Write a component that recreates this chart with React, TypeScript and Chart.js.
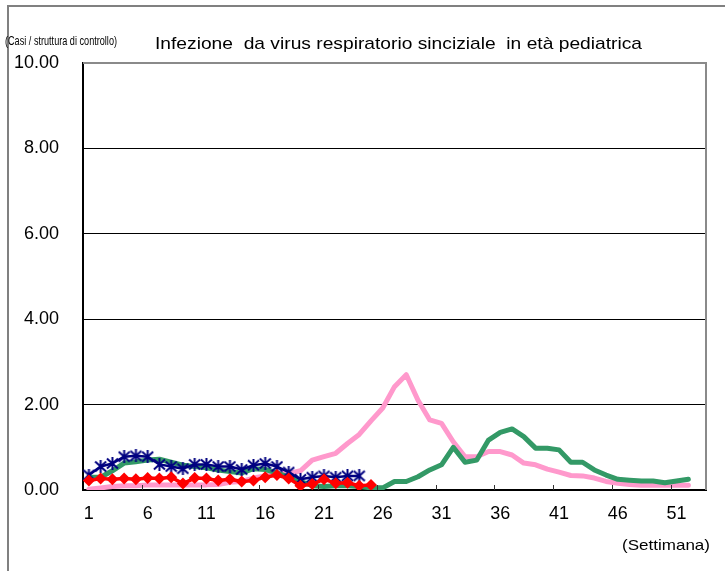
import React, { useEffect, useRef } from "react";
import { Chart, registerables } from "chart.js";

Chart.register(...registerables);

// ---- data ----
const weekLabels: string[] = [
  "1","2","3","4","5","6","7","8","9","10","11","12","13","14","15","16","17","18","19","20",
  "21","22","23","24","25","26","27","28","29","30","31","32","33","34","35","36","37","38","39","40",
  "41","42","43","44","45","46","47","48","49","50","51","52","53",
];
const shownWeekTicks: string[] = ["1","6","11","16","21","26","31","36","41","46","51"];
const yTicks: number[] = [0, 2, 4, 6, 8, 10];

const seriesPink: number[] = [
  0.02, 0.05, 0.08, 0.1, 0.1, 0.12, 0.12, 0.12, 0.12, 0.12,
  0.12, 0.13, 0.18, 0.2, 0.28, 0.33, 0.4, 0.38, 0.45, 0.7,
  0.78, 0.86, 1.09, 1.3, 1.62, 1.92, 2.42, 2.7, 2.1, 1.64,
  1.56, 1.13, 0.78, 0.78, 0.9, 0.9, 0.82, 0.63, 0.59, 0.49,
  0.42, 0.34, 0.33, 0.28, 0.2, 0.16, 0.13, 0.11, 0.11, 0.11,
  0.11, 0.11,
];
const seriesGreen: number[] = [
  0.3, 0.3, 0.45, 0.63, 0.66, 0.7, 0.72, 0.65, 0.58, 0.55,
  0.52, 0.47, 0.43, 0.4, 0.5, 0.48, 0.4, 0.3, 0.2, 0.1,
  0.08, 0.1, 0.1, 0.08, 0.05, 0.05, 0.2, 0.2, 0.31, 0.47,
  0.59, 1.0, 0.65, 0.7, 1.17, 1.35, 1.43, 1.25, 0.98, 0.98,
  0.94, 0.65, 0.65, 0.47, 0.35, 0.25, 0.23, 0.21, 0.21, 0.17,
  0.21, 0.25,
];
const seriesNavy: number[] = [
  0.35, 0.55, 0.62, 0.78, 0.8, 0.78, 0.6, 0.55, 0.5, 0.6,
  0.6, 0.55, 0.55, 0.48, 0.58, 0.62, 0.55, 0.42, 0.25, 0.3,
  0.33, 0.3, 0.33, 0.33,
];
const seriesRed: number[] = [
  0.22, 0.27, 0.25, 0.27, 0.25, 0.28, 0.27, 0.3, 0.15, 0.28,
  0.27, 0.22, 0.25, 0.2, 0.22, 0.3, 0.35, 0.27, 0.1, 0.14,
  0.25, 0.16, 0.17, 0.1, 0.12,
];

const titleText = "Infezione  da virus respiratorio sinciziale  in età pediatrica";
const yUnitText = "(Casi / struttura di controllo)";
const xUnitText = "(Settimana)";

const FONT = '"Liberation Sans", Arial, sans-serif';

function makeStar(): HTMLCanvasElement {
  const c = document.createElement("canvas");
  c.width = 13;
  c.height = 13;
  const g = c.getContext("2d")!;
  g.strokeStyle = "#000080";
  g.lineWidth = 2;
  g.beginPath();
  g.moveTo(1, 1.5);
  g.lineTo(12, 11.5);
  g.moveTo(12, 1.5);
  g.lineTo(1, 11.5);
  g.moveTo(6.5, 0);
  g.lineTo(6.5, 13);
  g.stroke();
  return c;
}

function drawFit(
  ctx: CanvasRenderingContext2D,
  text: string,
  x: number,
  y: number,
  width: number,
  font: string
) {
  ctx.save();
  ctx.font = font;
  const w = ctx.measureText(text).width;
  const s = width / w;
  ctx.translate(x, y);
  ctx.scale(s, 1);
  ctx.textAlign = "left";
  ctx.textBaseline = "middle";
  ctx.fillStyle = "#000";
  ctx.fillText(text, 0, 0);
  ctx.restore();
}

const decor = {
  id: "decor",
  beforeDraw(chart: any) {
    const ctx: CanvasRenderingContext2D = chart.ctx;
    ctx.save();
    ctx.fillStyle = "#fff";
    ctx.fillRect(0, 0, chart.width, chart.height);
    ctx.strokeStyle = "#808080";
    ctx.lineWidth = 2;
    ctx.beginPath();
    ctx.moveTo(8, chart.height);
    ctx.lineTo(8, 6);
    ctx.lineTo(chart.width, 6);
    ctx.stroke();
    ctx.restore();
  },
  afterDraw(chart: any) {
    const ctx: CanvasRenderingContext2D = chart.ctx;
    const a = chart.chartArea;
    const xs = chart.scales.x;
    ctx.save();
    // top and right frame
    ctx.strokeStyle = "#8a8a8a";
    ctx.lineWidth = 2;
    ctx.beginPath();
    ctx.moveTo(a.left, a.top);
    ctx.lineTo(a.right, a.top);
    ctx.lineTo(a.right, a.bottom);
    ctx.stroke();
    // inward tick marks at category boundaries every 5 weeks
    ctx.strokeStyle = "#333";
    ctx.lineWidth = 1;
    ctx.beginPath();
    for (let i = 5; i < weekLabels.length; i += 5) {
      const px = Math.round((xs.getPixelForValue(i - 1) + xs.getPixelForValue(i)) / 2) + 0.5;
      ctx.moveTo(px, a.bottom);
      ctx.lineTo(px, a.bottom - 5);
    }
    ctx.stroke();
    ctx.restore();
    // texts
    drawFit(ctx, titleText, 155, 44, 487, `17px ${FONT}`);
    drawFit(ctx, yUnitText, 5, 41, 112, `13px ${FONT}`);
    drawFit(ctx, xUnitText, 622, 546, 88, `15px ${FONT}`);
  },
};

export default function App() {
  const ref = useRef<HTMLCanvasElement>(null);
  useEffect(() => {
    if (!ref.current) return;
    const star = makeStar();
    const chart = new Chart(ref.current, {
      type: "line",
      data: {
        labels: weekLabels,
        datasets: [
          {
            data: seriesRed,
            borderColor: "#ff0000",
            backgroundColor: "#ff0000",
            borderWidth: 3.5,
            pointStyle: "rectRot",
            pointRadius: 6,
            pointBorderWidth: 0,
            tension: 0,
          },
          {
            data: seriesNavy,
            borderColor: "#000080",
            backgroundColor: "#000080",
            borderWidth: 2.5,
            pointStyle: star as any,
            pointRadius: 6,
            tension: 0,
          },
          {
            data: seriesGreen,
            borderColor: "#339966",
            borderWidth: 5,
            pointRadius: 0,
            tension: 0,
          },
          {
            data: seriesPink,
            borderColor: "#ff99cc",
            borderWidth: 5,
            pointRadius: 0,
            tension: 0,
          },
        ],
      },
      options: {
        responsive: false,
        animation: false,
        devicePixelRatio: 1,
        layout: { padding: { left: 0, top: 63, right: 19, bottom: 0 } },
        plugins: {
          legend: { display: false },
          title: { display: false },
          tooltip: { enabled: false },
        },
        elements: { line: { borderJoinStyle: "round", borderCapStyle: "round" } },
        scales: {
          x: {
            type: "category",
            offset: true,
            grid: { display: false, drawTicks: false },
            border: { display: true, color: "#000", width: 2 },
            ticks: {
              autoSkip: false,
              maxRotation: 0,
              padding: 13,
              color: "#000",
              font: { family: FONT, size: 18 },
              callback: (_v: any, i: number) =>
                shownWeekTicks.includes(weekLabels[i]) ? weekLabels[i] : "",
            },
            afterFit: (s: any) => {
              s.height = 81;
            },
          },
          y: {
            min: yTicks[0],
            max: yTicks[yTicks.length - 1],
            afterBuildTicks: (s: any) => {
              s.ticks = yTicks.map((v) => ({ value: v }));
            },
            grid: {
              drawTicks: false,
              color: (c: any) =>
                c.tick && (c.tick.value === 0 || c.tick.value === 10) ? "rgba(0,0,0,0)" : "#000",
              lineWidth: 1,
            },
            border: { display: true, color: "#000", width: 2 },
            ticks: {
              padding: 24,
              color: "#000",
              font: { family: FONT, size: 18 },
              callback: (v: any) => Number(v).toFixed(2),
            },
            afterFit: (s: any) => {
              s.width = 83;
            },
          },
        },
      },
      plugins: [decor],
    });
    return () => chart.destroy();
  }, []);
  return (
    <div style={{ position: "fixed", left: 0, top: 0, width: 725, height: 571, background: "#fff" }}>
      <canvas ref={ref} width={725} height={571} style={{ display: "block" }} />
    </div>
  );
}
